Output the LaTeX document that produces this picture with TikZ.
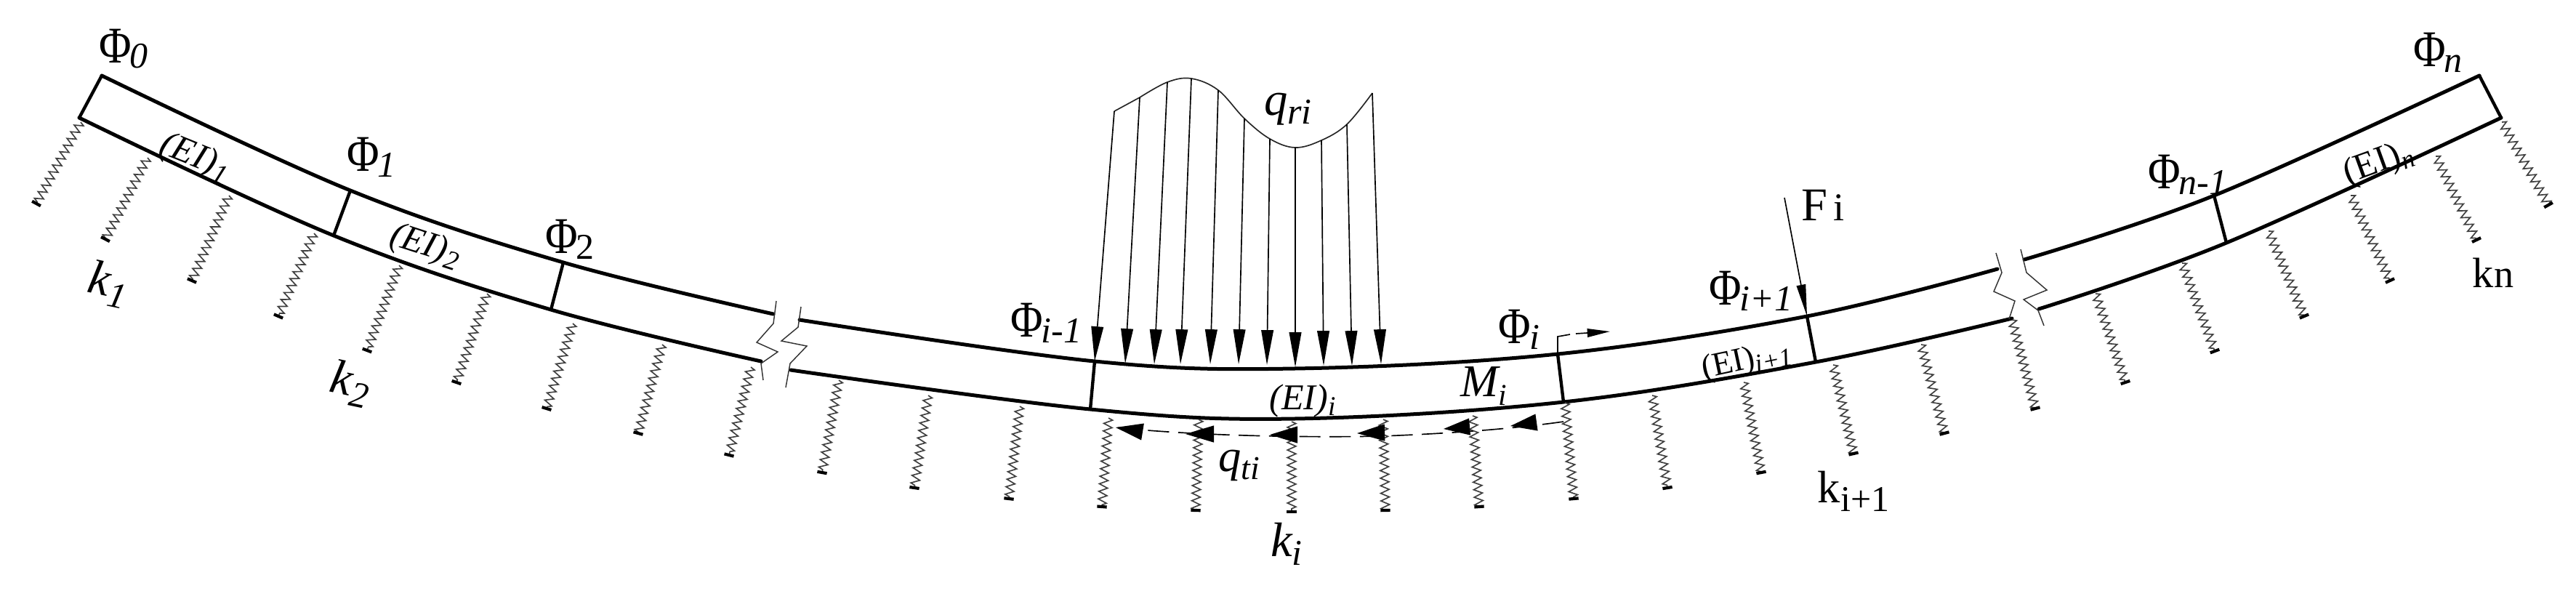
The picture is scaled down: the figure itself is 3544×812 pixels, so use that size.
\documentclass[tikz,border=0pt]{standalone}
\usepackage{fontspec}
\setmainfont{Liberation Serif}
\usetikzlibrary{arrows.meta,decorations.pathmorphing,calc}
\newcommand{\PhiGlyph}{{\fontsize{17}{17}\selectfont\scalebox{0.86}[1]{Φ}}}
\newcommand{\PhiSub}[1]{\PhiGlyph\kern-0.5pt\raisebox{-0.4ex}{\fontsize{12}{12}\selectfont\itshape #1}}
\newcommand{\PhiSubUp}[1]{\PhiGlyph\kern-0.5pt\raisebox{-0.4ex}{\fontsize{12}{12}\selectfont #1}}
\newcommand{\EIsub}[1]{\fontsize{12}{12}\selectfont\itshape (EI)\raisebox{-0.35ex}{\fontsize{9}{9}\selectfont #1}}
\newcommand{\EIup}[2][12]{\fontsize{#1}{#1}\selectfont (EI)\raisebox{-0.35ex}{\fontsize{8.5}{8.5}\selectfont #2}}
\newcommand{\kSub}[1]{\fontsize{16}{16}\selectfont\itshape k\raisebox{-0.4ex}{\fontsize{12}{12}\selectfont #1}}
\tikzset{
  beam/.style={line width=1.2pt,black,line cap=round},
  divider/.style={line width=1.05pt,black},
  breakline/.style={line width=0.35pt,black!80},
  spring/.style={line width=0.4pt,black!75,decorate,decoration={zigzag,amplitude=1.4pt,segment length=2.5pt}},
  foot/.style={line width=1pt,black},
  loadcurve/.style={line width=0.4pt,black!85},
  loadarrow/.style={line width=0.4pt,black,-{Triangle[length=11.5pt,width=4pt]}},
  shear/.style={line width=0.4pt,black,dash pattern=on 7pt off 3pt},
  sheartip/.style={black},
  lab/.style={inner sep=0pt,outer sep=0pt},
}
\begin{document}
\begin{tikzpicture}[x=0.24pt,y=-0.24pt]
\useasboundingbox (0,0) rectangle (3544,812);
% section points
\coordinate (T0) at (140,104);  \coordinate (B0) at (109,162);
\coordinate (T1) at (482,262);  \coordinate (B1) at (459,324);
\coordinate (T2) at (775,361);  \coordinate (B2) at (758,426);
\coordinate (Ta) at (1506,497); \coordinate (Ba) at (1500,563);
\coordinate (Tb) at (2143,487); \coordinate (Bb) at (2151,553);
\coordinate (Tc) at (2486,435); \coordinate (Bc) at (2498,498);
\coordinate (Td) at (3046,269); \coordinate (Bd) at (3063,334);
\coordinate (Te) at (3411,104); \coordinate (Be) at (3441,162);
% beam edges
\draw[beam] plot[smooth,tension=0.6] coordinates {(T0) (T1) (T2) (1064,432)};
\draw[beam] plot[smooth,tension=0.6] coordinates {(1100,440) (Ta) (1780,507) (Tb) (Tc) (2748,370)};
\draw[beam] plot[smooth,tension=0.6] coordinates {(2785,357) (Td) (Te)};
\draw[beam] plot[smooth,tension=0.6] coordinates {(B0) (B1) (B2) (1047,497)};
\draw[beam] plot[smooth,tension=0.6] coordinates {(1088,509) (Ba) (1780,576) (Bb) (Bc) (2768,438)};
\draw[beam] plot[smooth,tension=0.6] coordinates {(2805,425) (Bd) (Be)};
% dividers
\foreach \a/\b in {T0/B0,T1/B1,T2/B2,Ta/Ba,Tb/Bb,Tc/Bc,Td/Bd,Te/Be}
  \draw[divider] (\a) -- (\b);
% break marks
\draw[breakline] (1068,414) -- (1064,445) -- (1041,471) -- (1070,484) -- (1047,500) -- (1050,523);
\draw[breakline] (1102,422) -- (1098,450) -- (1075,469) -- (1110,476) -- (1087,500) -- (1081,533);
\draw[breakline] (2746,348) -- (2754,375) -- (2743,401) -- (2772,414) -- (2764,439);
\draw[breakline] (2780,343) -- (2788,375) -- (2816,399) -- (2784,412) -- (2804,427) -- (2812,448);
% springs
\foreach \xa/\ya/\xb/\yb in {
 111/168/50/280, 203/217/145/329, 315/269/264/386, 432/321/383/435,
 549/365/505/482, 670/404/628/526, 788/445/752/562, 911/474/878/596,
 1033/505/1003/626, 1154/523/1131/650, 1277/544/1258/671, 1403/559/1388/686,
 1525/575/1516/697, 1649/577/1645/702, 1777/580/1777/704, 1903/577/1906/702,
 2026/572/2035/697, 2153/554/2165/686, 2273/544/2294/671, 2399/526/2423/650,
 2522/502/2550/624, 2643/474/2675/596, 2768/440/2800/562, 2883/404/2924/526,
 3002/362/3047/483, 3121/318/3170/435, 3234/269/3288/386, 3351/215/3407/330,
 3442/168/3506/282}{
  \draw[spring] (\xa,\ya) -- (\xb,\yb);
  \draw[foot] ($(\xb,\yb)!1.6pt!-90:(\xa,\ya)$) -- ($(\xb,\yb)!1.6pt!90:(\xa,\ya)$);
}
% distributed radial load
\draw[loadcurve] plot[smooth,tension=0.6] coordinates {(1568,134) (1606,113) (1639,108) (1676,124) (1712,163) (1747,191) (1782,203) (1818,193) (1853,171) (1888,128)};
\draw[loadcurve] (1533,153) -- (1568,134);
\foreach \xa/\ya/\xb/\yb in {
 1533/153/1506/497, 1568/134/1548/500, 1606/113/1588/501, 1639/108/1624/501,
 1676/124/1665/501, 1712/163/1704/501, 1747/191/1743/502, 1782/203/1782/505,
 1818/193/1821/503, 1853/171/1860/503, 1888/128/1900/501}
  \draw[loadarrow] (\xa,\ya) -- (\xb,\yb);
% tangential load
\draw[shear] (2151,580) .. controls (2080,590) and (2000,596) .. (1900,600);
\draw[shear] (1900,600) .. controls (1800,602) and (1650,600) .. (1535,588);
\foreach \xa/\ya/\xb/\yb in {
 2114/581/2078/586, 2022/587/1986/590, 1905/595/1867/596,
 1785/598/1747/598, 1670/597/1631/597, 1572/594/1535/588}
  \fill[sheartip] (\xb,\yb) -- ($(\xa,\ya)!2.8pt!90:(\xb,\yb)$) -- ($(\xa,\ya)!2.8pt!-90:(\xb,\yb)$) -- cycle;
% moment
\draw[line width=0.4pt,black] (Tb) -- (2143,463) -- (2160,460);
\draw[line width=0.4pt,black,-{Triangle[length=7.5pt,width=2.8pt]}] (2168,459) -- (2215,456);
% point force
\coordinate (Fs) at (2455,272);
\draw[line width=0.4pt,black,-{Triangle[length=10.5pt,width=3pt]}] (Fs) -- (Tc);
% labels
\node[lab] (p0) at (170,67) {\PhiSub{0}};
\node[lab] (p1) at (511,216) {\PhiSubUp{\itshape 1}};
\node[lab] (p2) at (784,329) {\PhiSubUp{2}};
\node[lab] (pa) at (1439,444) {\PhiSub{i-1}};
\node[lab] (pb) at (2090,453) {\PhiSub{i}};
\node[lab] (pc) at (2409,400) {\PhiSub{i+1}};
\node[lab] (pd) at (3010,240) {\PhiSub{n-1}};
\node[lab] (pe) at (3354,72) {\PhiSub{n}};
\node[lab,rotate=-22] (e1) at (268,217) {\EIsub{1}};
\node[lab,rotate=-18] (e2) at (585,339) {\EIsub{2}};
\node[lab] (ei) at (1792,551) {\EIsub{i}};
\node[lab,rotate=12] (ec) at (2403,497) {\EIup[11]{\itshape i+1}};
\node[lab,rotate=20] (en) at (3272,225) {\EIup{\itshape n}};
\node[lab,rotate=-12] (k1) at (149,391) {\kSub{1}};
\node[lab,rotate=-12] (k2) at (482,528) {\kSub{2}};
\node[lab] (ki) at (1770,748) {\kSub{i}};
\node[lab] (kc) at (2550,676) {\fontsize{15}{15}\selectfont k\raisebox{-0.4ex}{\fontsize{12}{12}\selectfont i+1}};
\node[lab] (kn) at (3430,375) {\fontsize{14}{14}\selectfont k\fontsize{13}{13}\selectfont n};
\node[lab] (qr) at (1772,150) {\fontsize{15.5}{15.5}\selectfont\itshape q\raisebox{-0.4ex}{\fontsize{12}{12}\selectfont ri}};
\node[lab] (qt) at (1705,640) {\fontsize{15}{15}\selectfont\itshape q\raisebox{-0.4ex}{\fontsize{11}{11}\selectfont ti}};
\node[lab] (mi) at (2041,531) {\fontsize{15}{15}\selectfont\itshape M\raisebox{-0.4ex}{\fontsize{10}{10}\selectfont i}};
\node[lab] (fi) at (2508,282) {\fontsize{15.5}{15.5}\selectfont F\kern2pt\fontsize{13}{13}\selectfont i};
\end{tikzpicture}
\end{document}
